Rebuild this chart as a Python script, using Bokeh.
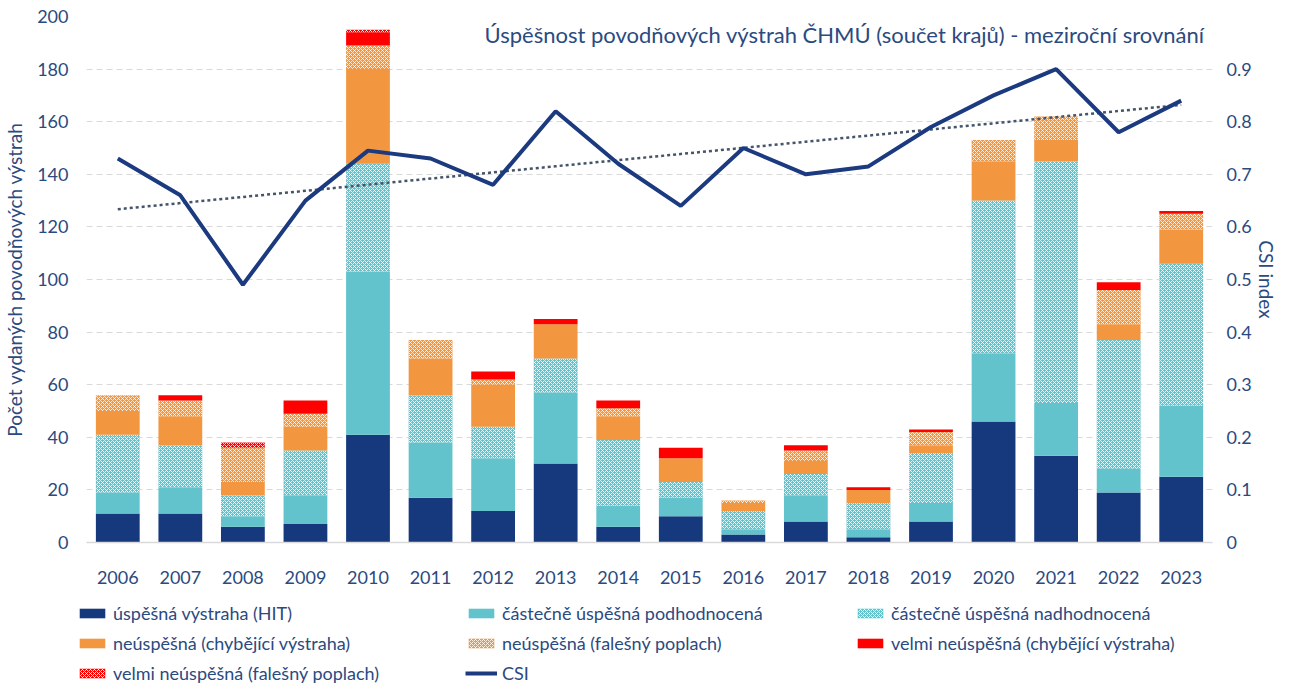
from bokeh.plotting import figure
from bokeh.models import (ColumnDataSource, Range1d, LinearAxis, FixedTicker,
                          NumeralTickFormatter, Legend, LegendItem, Label, FactorRange)
from bokeh.layouts import column
from bokeh.transform import stack
from bokeh.embed import file_html
from bokeh.resources import INLINE
import numpy as np

years = [str(y) for y in range(2006, 2024)]
hit = [11, 11, 6, 7, 41, 17, 12, 30, 6, 10, 3, 8, 2, 8, 46, 33, 19, 25]
under = [8, 10, 4, 11, 62, 21, 20, 27, 8, 7, 2, 10, 3, 7, 26, 20, 9, 27]
over = [22, 16, 8, 17, 41, 18, 12, 13, 25, 6, 7, 8, 10, 19, 58, 92, 49, 54]
miss = [9, 11, 5, 9, 36, 14, 16, 13, 9, 9, 3, 5, 5, 3, 15, 8, 6, 13]
false_alarm = [6, 6, 13, 5, 9, 7, 2, 0, 3, 0, 1, 4, 0, 5, 8, 9, 13, 6]
very_miss = [0, 2, 0, 5, 5, 0, 3, 2, 3, 4, 0, 2, 1, 1, 0, 0, 3, 1]
very_false = [0, 0, 2, 0, 1, 0, 0, 0, 0, 0, 0, 0, 0, 0, 0, 0, 0, 0]
csi = [0.73, 0.66, 0.49, 0.65, 0.745, 0.73, 0.68, 0.82, 0.72, 0.64, 0.75,
       0.70, 0.715, 0.79, 0.85, 0.90, 0.78, 0.84]

series_names = ["hit", "under", "over", "miss", "fa", "vmiss", "vfa"]
series_labels = ["úspěšná výstraha (HIT)",
                 "částečně úspěšná podhodnocená",
                 "částečně úspěšná nadhodnocená",
                 "neúspěšná (chybějící výstraha)",
                 "neúspěšná (falešný poplach)",
                 "velmi neúspěšná (chybějící výstraha)",
                 "velmi neúspěšná (falešný poplach)"]
title_text = "Úspěšnost povodňových výstrah ČHMÚ (součet krajů) - meziroční srovnání"

NAVY = "#16397E"
TEAL = "#62C3CC"
ORANGE = "#F2963F"
RED = "#FF0000"
TXT = "#2B4A80"
LINE = "#1B3A80"
FONT = "Lato"

hatch = dict(hatch_pattern="diagonal_cross", hatch_color="white",
             hatch_scale=4, hatch_weight=1.0, hatch_alpha=0.8)
styles = [
    dict(fill_color=NAVY),
    dict(fill_color=TEAL),
    dict(fill_color=TEAL, **hatch),
    dict(fill_color=ORANGE),
    dict(fill_color=ORANGE, **hatch),
    dict(fill_color=RED),
    dict(fill_color=RED, **hatch),
]

data = dict(year=years, hit=hit, under=under, over=over, miss=miss,
            fa=false_alarm, vmiss=very_miss, vfa=very_false, csi=csi)
xs = np.arange(len(years))
slope, intercept = np.polyfit(xs, np.array(csi), 1)
data["trend"] = list(slope * xs + intercept)
src = ColumnDataSource(data)

p = figure(width=1280, height=598, x_range=FactorRange(*years, range_padding=0),
           y_range=Range1d(0, 200), output_backend="svg", toolbar_location=None,
           min_border_left=80, min_border_right=67, min_border_top=16,
           min_border_bottom=56)
p.outline_line_color = None
p.background_fill_color = "white"
p.border_fill_color = "white"
p.extra_y_ranges = {"csi": Range1d(0, 1)}
p.frame_align = False

for i, name in enumerate(series_names):
    p.vbar(x="year", width=0.7, bottom=stack(*series_names[:i]),
           top=stack(*series_names[:i + 1]), source=src, line_color=None,
           **styles[i])

p.line(x="year", y="trend", source=src, y_range_name="csi",
       line_color="#44546A", line_width=2.5, line_dash="3 3")
p.line(x="year", y="csi", source=src, y_range_name="csi",
       line_color=LINE, line_width=4)


def style_axis(ax, standoff):
    ax.major_label_text_font = FONT
    ax.major_label_text_font_size = "18px"
    ax.major_label_text_color = TXT
    ax.major_label_standoff = standoff
    ax.major_tick_line_color = None
    ax.minor_tick_line_color = None
    ax.major_tick_out = 0
    ax.major_tick_in = 0
    ax.minor_tick_out = 0
    ax.minor_tick_in = 0
    ax.axis_label_text_font = FONT
    ax.axis_label_text_font_size = "19px"
    ax.axis_label_text_font_style = "normal"
    ax.axis_label_text_color = TXT


style_axis(p.xaxis[0], 28)
p.xaxis.axis_line_color = "#D9D9D9"
p.xaxis.axis_line_width = 1.5

p.yaxis.ticker = FixedTicker(ticks=list(range(0, 201, 20)))
p.yaxis.axis_label = "Počet vydaných povodňových výstrah"
style_axis(p.yaxis[0], 18)
p.yaxis.axis_label_standoff = 8
p.yaxis.axis_line_color = None

ax2 = LinearAxis(y_range_name="csi", ticker=FixedTicker(ticks=[i / 10 for i in range(10)]),
                 formatter=NumeralTickFormatter(format="0.[0]"),
                 axis_label="CSI index")
style_axis(ax2, 14)
ax2.axis_label_standoff = 0
ax2.axis_line_color = None
p.add_layout(ax2, "right")

p.xgrid.grid_line_color = None
p.ygrid.grid_line_color = "#D9D9D9"
p.ygrid.grid_line_dash = "6 4"
p.ygrid.grid_line_width = 1

p.add_layout(Label(x=390, y=508, x_units="screen", y_units="screen", text=title_text,
                   text_font=FONT, text_font_size="22px", text_color=TXT,
                   text_baseline="middle", background_fill_color="white",
                   padding=8))

# legend in its own strip below the chart
lf = figure(width=1280, height=85, x_range=Range1d(0, 1), y_range=Range1d(0, 1),
            output_backend="svg", toolbar_location=None, min_border=0)
lf.frame_align = False
lf.axis.visible = False
lf.grid.visible = False
lf.outline_line_color = None
dummy = ColumnDataSource(dict(x=[5, 6], top=[5, 5], y=[5, 5]))
leg_renderers = []
for st in styles:
    leg_renderers.append(lf.vbar(x="x", top="top", width=0.5, source=dummy,
                                 line_color=None, **st))
leg_renderers.append(lf.line(x="x", y="y", source=dummy, line_color=LINE, line_width=4))
leg_labels = series_labels + ["CSI"]
items = [LegendItem(label=lab, renderers=[r]) for lab, r in zip(leg_labels, leg_renderers)]
legend = Legend(items=items, location=(76, -1), orientation="horizontal", ncols=3,
                glyph_width=32, glyph_height=12, label_width=344, label_height=22,
                label_standoff=5, spacing=8, padding=0, margin=0,
                border_line_color=None, background_fill_alpha=0,
                label_text_font=FONT, label_text_font_size="18px",
                label_text_color=TXT)
lf.add_layout(legend, "center")

layout = column(p, lf, spacing=0)
open("out.html", "w").write(file_html(layout, INLINE))
